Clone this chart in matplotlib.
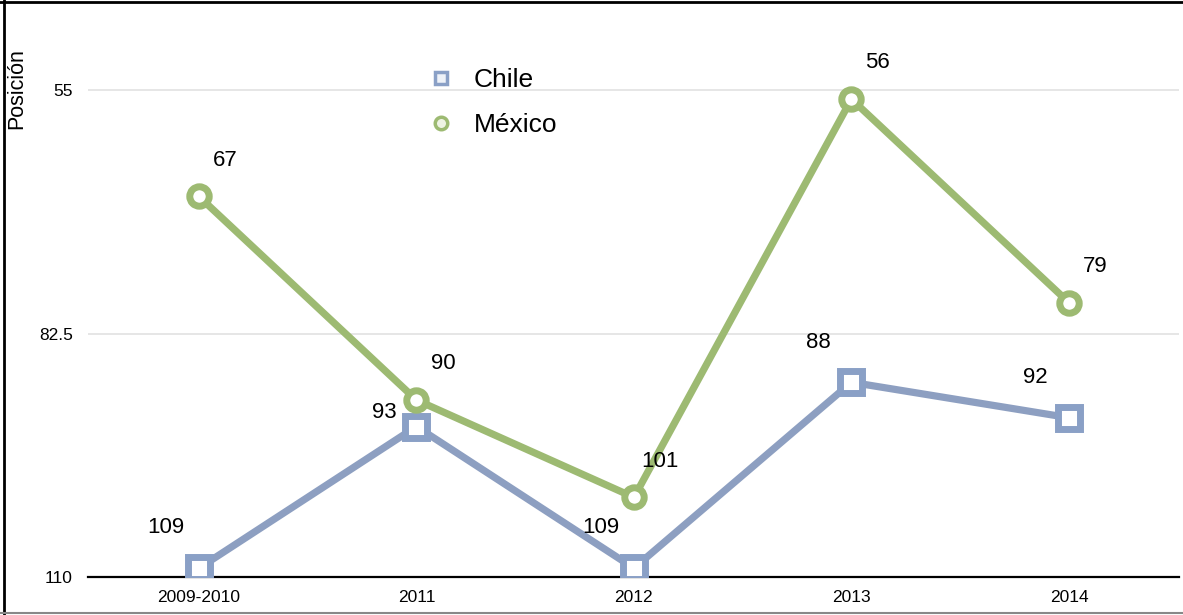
"""
Posición Chile vs México (eje invertido, estilo gráfico de hoja de cálculo).
"""
import matplotlib
matplotlib.use("Agg")
import matplotlib.pyplot as plt
from matplotlib.lines import Line2D

years = ["2009-2010", "2011", "2012", "2013", "2014"]
chile = [109, 93, 109, 88, 92]
mexico = [67, 90, 101, 56, 79]
y_ticks = [55, 82.5, 110]
y_tick_labels = ["55", "82.5", "110"]

CHILE_COLOR = "#8d9fc1"
MEXICO_COLOR = "#9dba72"


def main() -> None:
    plt.rcParams.update(
        {
            "font.family": ["Liberation Sans", "DejaVu Sans"],
        }
    )

    W, H = 1183, 615
    fig = plt.figure(figsize=(W / 100, H / 100), dpi=100)
    ax = fig.add_axes([88 / W, 38 / H, 1091 / W, 567 / H])

    x = list(range(len(years)))

    ax.plot(x, chile, color=CHILE_COLOR, linewidth=5.2, marker="s",
            markersize=16, markerfacecolor="white",
            markeredgecolor="#8aa0c6", markeredgewidth=5, zorder=3)
    ax.plot(x, mexico, color=MEXICO_COLOR, linewidth=5.2, marker="o",
            markersize=14, markerfacecolor="white",
            markeredgecolor=MEXICO_COLOR, markeredgewidth=5, zorder=4)

    for i, v in enumerate(mexico):
        ax.annotate(str(v), (i, v), xytext=(19, 26), textcoords="offset points",
                    ha="center", va="center", fontsize=16, zorder=5)
    for i, v in enumerate(chile):
        off = (-23, 10) if i == 1 else (-24, 29)
        ax.annotate(str(v), (i, v), xytext=off, textcoords="offset points",
                    ha="center", va="center", fontsize=16, zorder=5)

    ax.set_xlim(-0.51, 4.506)
    ax.set_ylim(110, 110 - 567 / 8.85)
    ax.set_xticks(x)
    ax.set_xticklabels(years, fontsize=12.5)
    ax.set_yticks(y_ticks)
    ax.set_yticklabels(y_tick_labels, fontsize=12.5)
    ax.tick_params(axis="both", length=0)
    ax.tick_params(axis="y", pad=11)
    ax.tick_params(axis="x", pad=9)

    for s in ("top", "right", "left"):
        ax.spines[s].set_visible(False)
    ax.spines["bottom"].set_color("black")
    ax.spines["bottom"].set_linewidth(1.6)
    ax.spines["bottom"].set_zorder(2)

    ax.yaxis.grid(True, color="#e2e2e2", linewidth=1.2)
    ax.set_axisbelow(True)

    handles = [
        Line2D([], [], linestyle="none", marker="s", markersize=9,
               markerfacecolor="#eef2f8", markeredgecolor="#8aa0c6",
               markeredgewidth=2.5, label="Chile"),
        Line2D([], [], linestyle="none", marker="o", markersize=9,
               markerfacecolor="#eef3e4", markeredgecolor=MEXICO_COLOR,
               markeredgewidth=2.5, label="México"),
    ]
    ax.legend(handles=handles, loc="upper left", frameon=False, fontsize=19,
              handlelength=1, handletextpad=0.75, labelspacing=0.8,
              borderpad=0, borderaxespad=0,
              bbox_to_anchor=(427.5 / W, 1 - 68 / H),
              bbox_transform=fig.transFigure)

    fig.text(17 / W, 1 - 89 / H, "Posición", rotation=90, fontsize=15.5,
             ha="center", va="center")

    # marco de la imagen
    fig.add_artist(Line2D([4 / W, 4 / W], [0, 1], color="black",
                          linewidth=2, transform=fig.transFigure))
    fig.add_artist(Line2D([0, 1], [1 - 1.5 / H, 1 - 1.5 / H], color="black",
                          linewidth=2, transform=fig.transFigure))
    fig.add_artist(Line2D([0, 1], [1 - 613 / H, 1 - 613 / H], color="#888888",
                          linewidth=1.5, transform=fig.transFigure))

    fig.savefig("out.png", dpi=100)
    plt.close(fig)


if __name__ == "__main__":
    main()
